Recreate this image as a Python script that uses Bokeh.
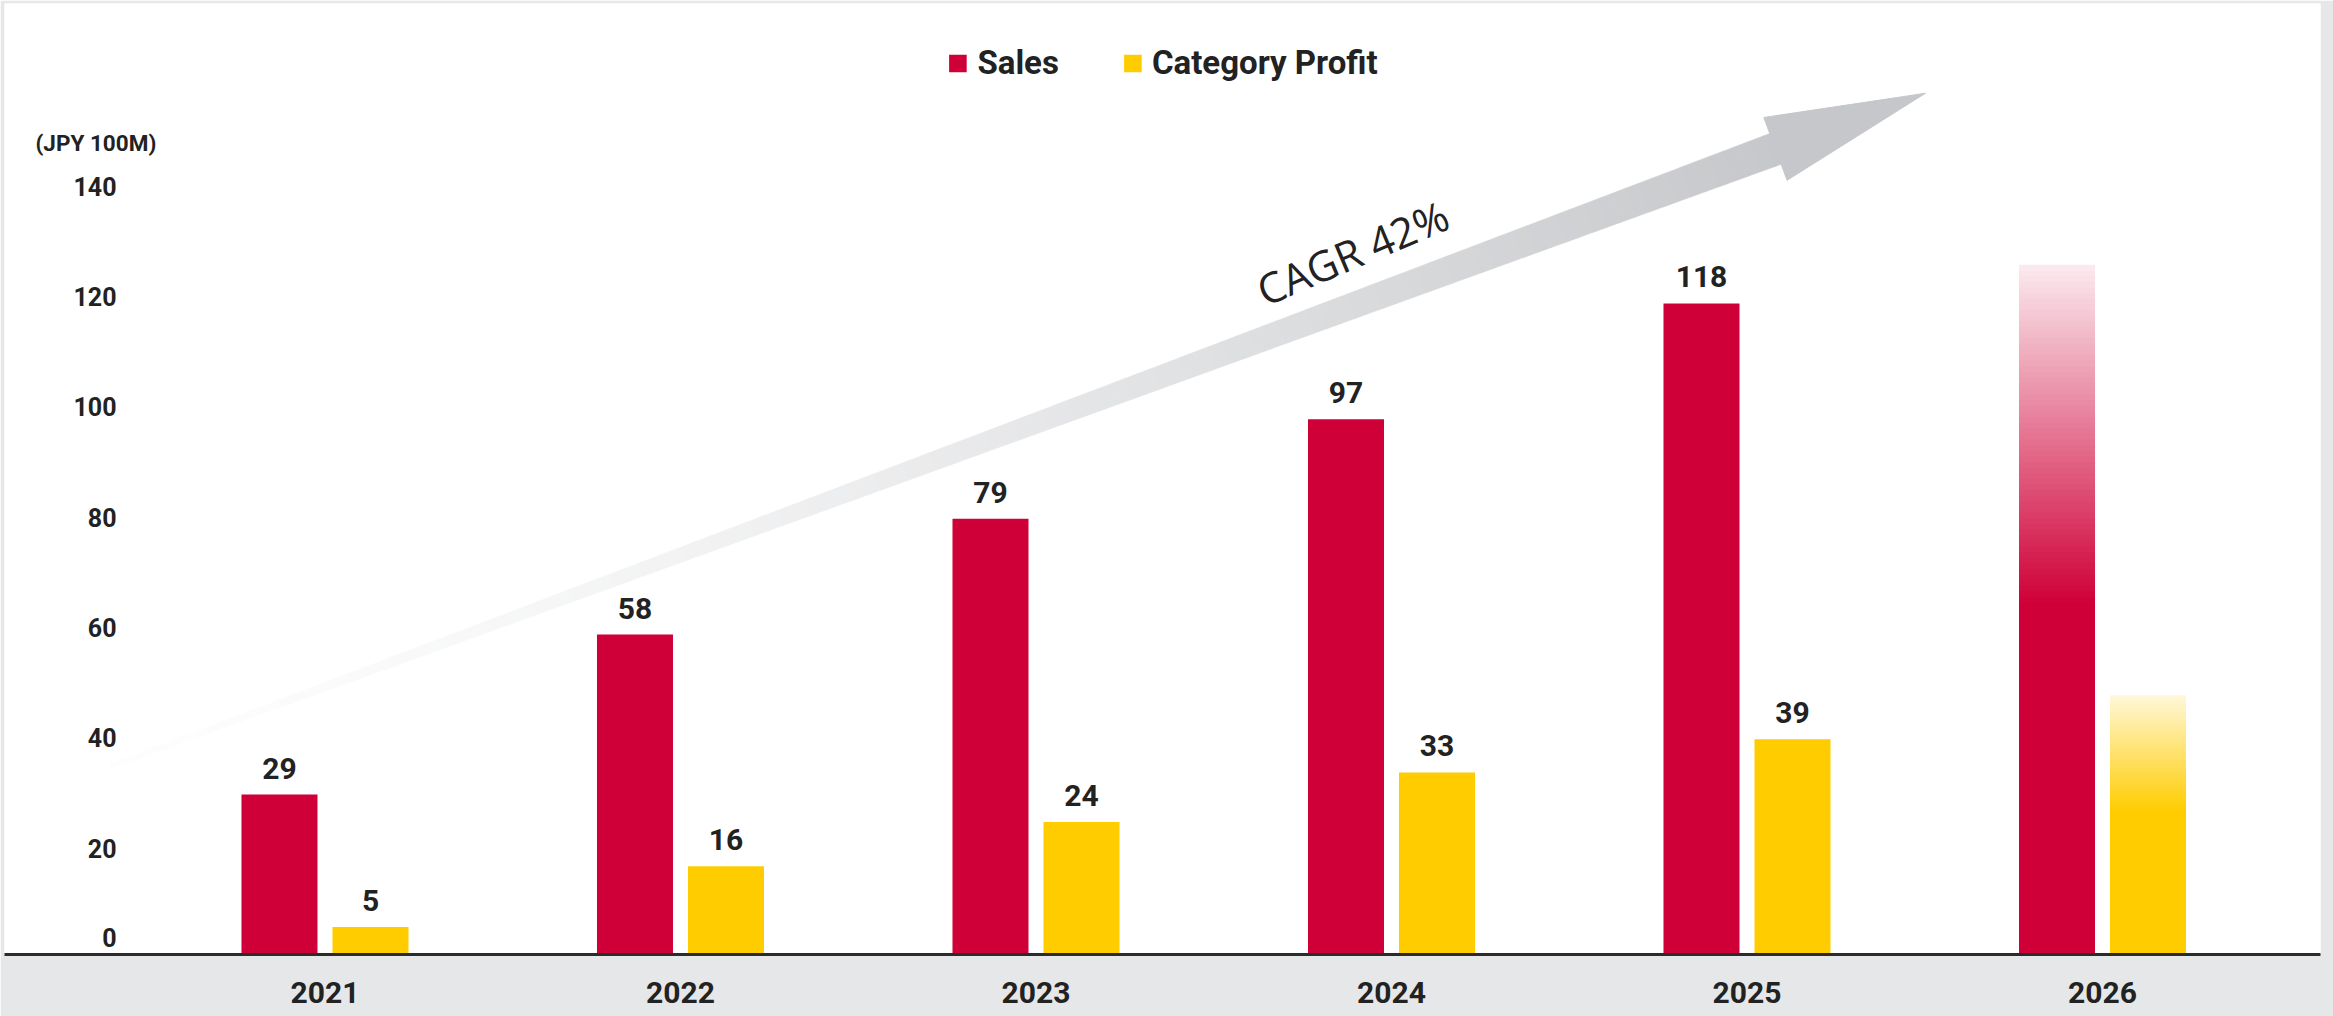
import numpy as np
from bokeh.plotting import figure
from bokeh.models import FixedTicker, Legend, LegendItem, ColumnDataSource
from bokeh.core.properties import value
from bokeh.embed import file_html
from bokeh.resources import INLINE

# ---------------- data ----------------
years = ["2021", "2022", "2023", "2024", "2025", "2026"]
sales = [29, 58, 79, 97, 118, 125]
profit = [5, 16, 24, 33, 39, 47]
forecast = [False, False, False, False, False, True]
y_ticks = [0, 20, 40, 60, 80, 100, 120, 140]
series_names = ["Sales", "Category Profit"]
unit_label = "(JPY 100M)"
cagr_label = "CAGR 42%"

# ---------------- style ----------------
RED = "#cf0037"
YELLOW = "#ffcc00"
GREY_BG = "#e6e7e9"
ARROW = "#c5c7ca"
INK = "#222222"
FONT = "Roboto"

X0, X1 = -0.9015, 5.6132
Y0, Y1 = 0.0, 172.37
FW, FH = 2316, 951
SX = FW / (X1 - X0)
SY = FH / (Y1 - Y0)
OFF = 0.128
BW = 0.2138

p = figure(frame_width=FW, frame_height=FH, x_range=(X0, X1), y_range=(Y0, Y1),
           output_backend="svg", toolbar_location=None, y_axis_location=None,
           min_border_left=4, min_border_top=3, min_border_right=13, min_border_bottom=62,
           background_fill_color="white", border_fill_color=GREY_BG,
           outline_line_color=None)
p.xgrid.visible = False
p.ygrid.visible = False


def mix(hex_color, f):
    r, g, b = int(hex_color[1:3], 16), int(hex_color[3:5], 16), int(hex_color[5:7], 16)
    rr = round(255 + (r - 255) * f)
    gg = round(255 + (g - 255) * f)
    bb = round(255 + (b - 255) * f)
    return "#%02x%02x%02x" % (rr, gg, bb)


def to_px(x, y):
    return ((x - X0) * SX, (y - Y0) * SY)


def to_data(px, py):
    return (X0 + px / SX, Y0 + py / SY)


# ---------------- arrow (decoration) ----------------
tail = to_px(-0.603, 34.1)
tip = to_px(4.502, 156.1)
d = np.array(tip) - np.array(tail)
L = np.hypot(*d)
u = d / L
n = np.array([-u[1], u[0]])
head_len, head_w = 160.0, 67.0
w_tail, w_base = 5.0, 33.0
base = np.array(tip) - u * head_len
shaft_len = L - head_len + 8
N = 120
xs, ys, cols = [], [], []
for i in range(N):
    t0, t1 = i / N, min((i + 1.02) / N, 1.0)
    p0 = np.array(tail) + u * shaft_len * t0
    p1 = np.array(tail) + u * shaft_len * t1
    w0 = (w_tail + (w_base - w_tail) * t0) / 2
    w1 = (w_tail + (w_base - w_tail) * t1) / 2
    pts = [p0 + n * w0, p1 + n * w1, p1 - n * w1, p0 - n * w0]
    dpts = [to_data(*q) for q in pts]
    xs.append([q[0] for q in dpts])
    ys.append([q[1] for q in dpts])
    tm = (t0 + t1) / 2
    cols.append(mix(ARROW, 0.03 + 0.97 * tm ** 1.5))
p.patches(xs=xs, ys=ys, fill_color=cols, line_color=cols, line_width=0.5)
head_pts = [np.array(tip), base + n * head_w / 2, base - n * head_w / 2]
hd = [to_data(*q) for q in head_pts]
p.patch(x=[q[0] for q in hd], y=[q[1] for q in hd], fill_color=ARROW, line_color=ARROW)

p.text(x=[2.89], y=[127.3], text=[cagr_label], angle=0.40, text_align="center",
       text_baseline="middle", text_font=value("Open Sans"), text_font_size="42px",
       text_color=INK)

# ---------------- bars ----------------
idx = [i for i in range(len(years)) if not forecast[i]]
src = ColumnDataSource(dict(
    xs=[i - OFF for i in idx], xp=[i + OFF for i in idx],
    s=[sales[i] for i in idx], pr=[profit[i] for i in idx],
    sl=[str(sales[i]) for i in idx], pl=[str(profit[i]) for i in idx]))
r_sales = p.vbar(x="xs", top="s", bottom=0, width=BW, source=src, fill_color=RED, line_color=None)
r_prof = p.vbar(x="xp", top="pr", bottom=0, width=BW, source=src, fill_color=YELLOW, line_color=None)

for i in range(len(years)):
    if not forecast[i]:
        continue
    for xc, v, col, solid_frac, ftop in [(i - OFF, sales[i], RED, 0.51, 0.08),
                                         (i + OFF, profit[i], YELLOW, 0.55, 0.15)]:
        fs = v * solid_frac
        p.vbar(x=[xc], top=[fs + 0.3], bottom=[0], width=BW, fill_color=col, line_color=None)
        M = 60
        tops, bots, cc = [], [], []
        for k in range(M):
            a = fs + (v - fs) * k / M
            b = fs + (v - fs) * (k + 1) / M
            f = 1 - (1 - ftop) * ((k + 0.5) / M)
            bots.append(a)
            tops.append(min(v, b + 0.25))
            cc.append(mix(col, f))
        p.vbar(x=[xc] * M, top=tops, bottom=bots, width=BW, fill_color=cc, line_color=None)

# value labels
lab_style = dict(text_align="center", text_baseline="bottom", text_font=value(FONT),
                 text_font_style="bold", text_font_size="30px", text_color=INK, y_offset=-16)
p.text(x="xs", y="s", text="sl", source=src, **lab_style)
p.text(x="xp", y="pr", text="pl", source=src, **lab_style)

# y tick labels (inside plot)
tsrc = ColumnDataSource(dict(y=y_ticks, t=[str(v) for v in y_ticks],
                             off=[4 if v > 0 else -17 for v in y_ticks]))
p.text(x=-0.5865, y="y", text="t", source=tsrc, y_offset="off", text_align="right",
       text_baseline="middle", text_font=value(FONT), text_font_style="bold",
       text_font_size="25px", text_color=INK)
p.text(x=[-0.8143], y=[147.0], text=[unit_label], text_align="left", text_baseline="middle",
       text_font=value(FONT), text_font_style="bold", text_font_size="22.5px", text_color=INK)

# ---------------- x axis ----------------
ax = p.xaxis[0]
ax.ticker = FixedTicker(ticks=list(range(len(years))))
ax.major_label_overrides = {i: y for i, y in enumerate(years)}
ax.axis_line_color = "#2b2b2b"
ax.axis_line_width = 3
ax.major_tick_line_color = None
ax.minor_tick_line_color = None
ax.major_label_standoff = 21
ax.major_label_text_font = FONT
ax.major_label_text_font_style = "bold"
ax.major_label_text_font_size = "30px"
ax.major_label_text_color = INK

# ---------------- legend ----------------
legend = Legend(items=[LegendItem(label=series_names[0], renderers=[r_sales]),
                       LegendItem(label=series_names[1], renderers=[r_prof])],
                location="top_center", orientation="horizontal",
                label_text_font=FONT, label_text_font_style="bold",
                label_text_font_size="33px", label_text_color=INK,
                glyph_width=22, glyph_height=22, label_standoff=9, spacing=62,
                padding=0, margin=40, border_line_alpha=0, background_fill_alpha=0)
p.add_layout(legend)

open("out.html", "w").write(file_html(p, INLINE))
